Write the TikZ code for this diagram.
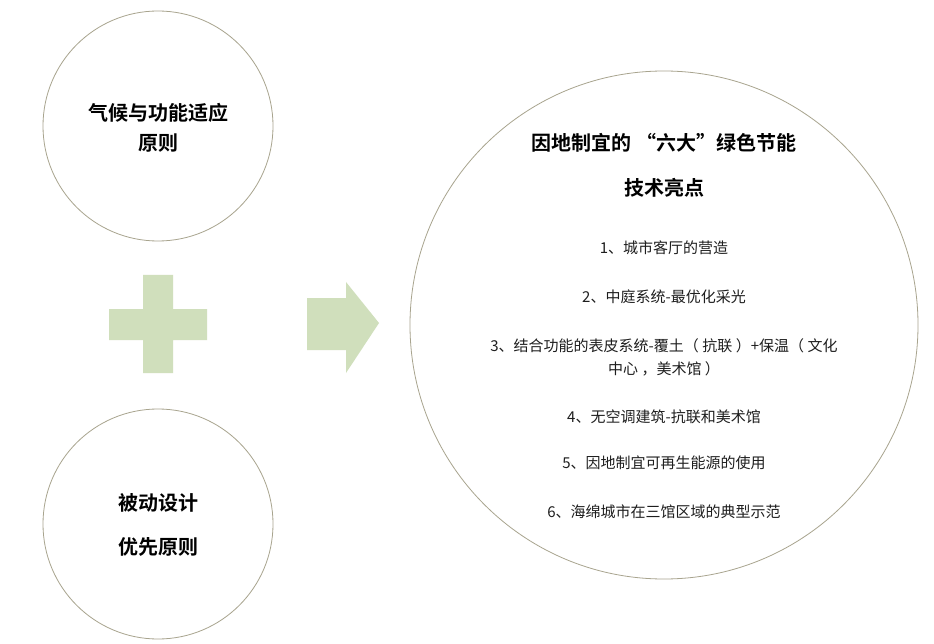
\documentclass[tikz,border=0pt]{standalone}
\usepackage{fontspec}
\setmainfont{Noto Sans CJK SC}
\newfontfamily\cjkb{Noto Sans CJK SC Bold}
\definecolor{leaf}{HTML}{D0DFBC}
\definecolor{ring}{HTML}{A8A48E}
\definecolor{ink}{HTML}{1E1E1E}
\newcommand{\pgap}{\hspace{3.5pt}}
\begin{document}
\begin{tikzpicture}[x=1pt,y=-1pt,
  ringc/.style={circle,draw=ring,line width=0.8pt,inner sep=0pt},
  headtxt/.style={font=\cjkb\fontsize{20}{26}\selectfont,text=black,inner sep=0pt,align=center},
  itemtxt/.style={font=\fontsize{15}{23}\selectfont,text=ink,inner sep=0pt,align=center}]
\useasboundingbox (0,0) rectangle (934,644);
\fill[white] (0,0) rectangle (934,644);
% circles
\node[ringc,minimum size=230pt] (c1) at (158,126) {};
\node[ringc,minimum size=230pt] (c2) at (158,524) {};
\node[ringc,minimum size=508pt] (c3) at (664,325) {};
% plus
\fill[leaf] (143,275) -- (173,275) -- (173,309) -- (207,309) -- (207,340) -- (173,340) -- (173,373) -- (143,373) -- (143,340) -- (109,340) -- (109,309) -- (143,309) -- cycle;
% arrow
\fill[leaf] (307,298) -- (346,298) -- (346,282) -- (379,323) -- (346,373) -- (346,350) -- (307,350) -- cycle;
% texts
\node[headtxt] (t1a) at (158,113) {气候与功能适应};
\node[headtxt] (t1b) at (158,143) {原则};
\node[headtxt] (t2a) at (158,503) {被动设计};
\node[headtxt] (t2b) at (158,547) {优先原则};
\node[headtxt] (t3a) at (664,143) {因地制宜的 “六大”绿色节能};
\node[headtxt] (t3b) at (664,188) {技术亮点};
\node[itemtxt] (i1) at (664,248) {1、城市客厅的营造};
\node[itemtxt] (i2) at (664,297) {2、中庭系统-最优化采光};
\node[itemtxt] (i3) at (664,357) {3、结合功能的表皮系统-覆土（\pgap 抗联\pgap ）+保温（\pgap 文化\\中心\pgap ，美术馆\pgap ）};
\node[itemtxt] (i4) at (664,417) {4、无空调建筑-抗联和美术馆};
\node[itemtxt] (i5) at (664,463) {5、因地制宜可再生能源的使用};
\node[itemtxt] (i6) at (664,512) {6、海绵城市在三馆区域的典型示范};
\end{tikzpicture}
\end{document}
